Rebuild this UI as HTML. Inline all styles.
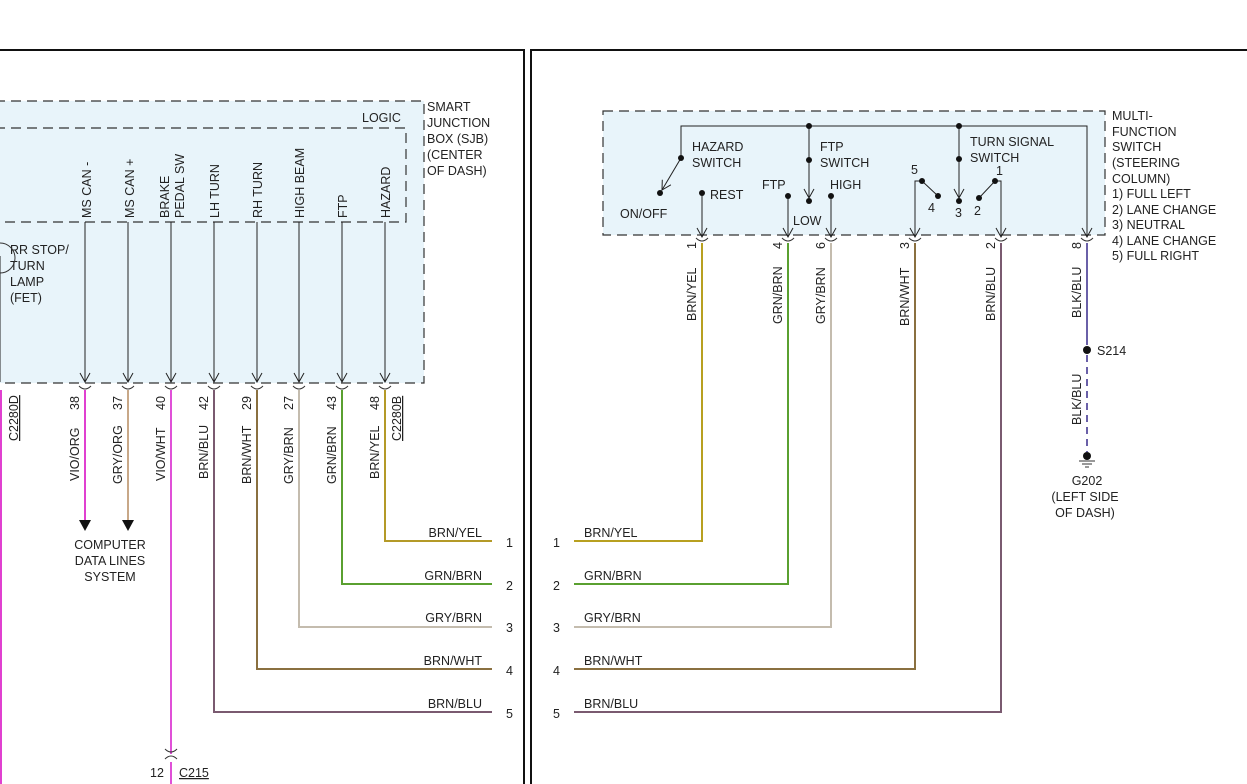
<!DOCTYPE html>
<html><head><meta charset="utf-8"><style>
html,body{margin:0;padding:0;background:#fff;}
svg{display:block;font-family:"Liberation Sans",Arial,sans-serif;font-size:12.5px;fill:#222;}
text{fill:#222;}
</style></head><body>
<svg width="1247" height="784" viewBox="0 0 1247 784" xmlns="http://www.w3.org/2000/svg">
<defs>
<marker id="ar" markerWidth="12" markerHeight="12" refX="10" refY="6" orient="auto" markerUnits="userSpaceOnUse">
<path d="M1,1 L10,6 L1,11" fill="none" stroke="#222" stroke-width="1"/>
</marker>
</defs>
<!-- frames -->
<path d="M0,50 H524 V784" fill="none" stroke="#111" stroke-width="2"/>
<path d="M531,784 V50 H1247" fill="none" stroke="#111" stroke-width="2"/>

<!-- SJB -->
<rect x="-5" y="101" width="429" height="282" fill="#e8f4fa" stroke="#333" stroke-dasharray="10,6" stroke-width="1.2"/>
<path d="M-5,128 H406 V222 H-5" fill="none" stroke="#333" stroke-dasharray="10,6" stroke-width="1.2"/>
<text x="362" y="122">LOGIC</text>
<text x="427" y="111">SMART</text>
<text x="427" y="127">JUNCTION</text>
<text x="427" y="143">BOX (SJB)</text>
<text x="427" y="159">(CENTER</text>
<text x="427" y="175">OF DASH)</text>
<text x="10" y="254">RR STOP/</text>
<text x="10" y="270">TURN</text>
<text x="10" y="286">LAMP</text>
<text x="10" y="302">(FET)</text>
<path d="M0,243 A14,14 0 0 1 0,273" fill="none" stroke="#333"/>
<line x1="0" y1="256" x2="0" y2="382" stroke="#222"/>

<g stroke="#222" stroke-width="1">
<line x1="85" y1="222" x2="85" y2="382" marker-end="url(#ar)"/>
<line x1="128" y1="222" x2="128" y2="382" marker-end="url(#ar)"/>
<line x1="171" y1="222" x2="171" y2="382" marker-end="url(#ar)"/>
<line x1="214" y1="222" x2="214" y2="382" marker-end="url(#ar)"/>
<line x1="257" y1="222" x2="257" y2="382" marker-end="url(#ar)"/>
<line x1="299" y1="222" x2="299" y2="382" marker-end="url(#ar)"/>
<line x1="342" y1="222" x2="342" y2="382" marker-end="url(#ar)"/>
<line x1="385" y1="222" x2="385" y2="382" marker-end="url(#ar)"/>
</g>
<g>
<text transform="translate(91,218) rotate(-90)">MS CAN -</text>
<text transform="translate(134,218) rotate(-90)">MS CAN +</text>
<text transform="translate(169,218) rotate(-90)">BRAKE</text>
<text transform="translate(184,218) rotate(-90)">PEDAL SW</text>
<text transform="translate(219,218) rotate(-90)">LH TURN</text>
<text transform="translate(262,218) rotate(-90)">RH TURN</text>
<text transform="translate(304,218) rotate(-90)">HIGH BEAM</text>
<text transform="translate(347,218) rotate(-90)">FTP</text>
<text transform="translate(390,218) rotate(-90)">HAZARD</text>
</g>

<!-- connector cups left -->
<g fill="none" stroke="#333" stroke-width="1">
<path d="M79,386 Q85,392 91,386"/><path d="M122,386 Q128,392 134,386"/><path d="M165,386 Q171,392 177,386"/>
<path d="M208,386 Q214,392 220,386"/><path d="M251,386 Q257,392 263,386"/><path d="M293,386 Q299,392 305,386"/>
<path d="M336,386 Q342,392 348,386"/><path d="M379,386 Q385,392 391,386"/>
</g>

<!-- left wires -->
<g fill="none" stroke-width="2">
<line x1="1" y1="390" x2="1" y2="784" stroke="#e040d0"/>
<line x1="85" y1="390" x2="85" y2="522" stroke="#e040d0"/>
<line x1="128" y1="390" x2="128" y2="522" stroke="#c8a888"/>
<path d="M171,390 V754 M171,762 V784" stroke="#e050d8"/>
<path d="M214,390 V712 H492" stroke="#7a5a70"/>
<path d="M257,390 V669 H492" stroke="#8a7040"/>
<path d="M299,390 V627 H492" stroke="#c4bcae"/>
<path d="M342,390 V584 H492" stroke="#5aa030"/>
<path d="M385,390 V541 H492" stroke="#b49a28"/>
</g>
<polygon points="79,520 91,520 85,531" fill="#111"/>
<polygon points="122,520 134,520 128,531" fill="#111"/>
<text x="110" y="549" text-anchor="middle">COMPUTER</text>
<text x="110" y="565" text-anchor="middle">DATA LINES</text>
<text x="110" y="581" text-anchor="middle">SYSTEM</text>
<path d="M165,749 Q171,755 177,749 M165,759 Q171,753 177,759" fill="none" stroke="#333"/>
<text x="150" y="777">12</text>
<text x="179" y="777" text-decoration="underline">C215</text>

<g>
<text transform="translate(18,441) rotate(-90)" text-decoration="underline">C2280D</text>
<text transform="translate(79,410) rotate(-90)">38</text>
<text transform="translate(122,410) rotate(-90)">37</text>
<text transform="translate(165,410) rotate(-90)">40</text>
<text transform="translate(208,410) rotate(-90)">42</text>
<text transform="translate(251,410) rotate(-90)">29</text>
<text transform="translate(293,410) rotate(-90)">27</text>
<text transform="translate(336,410) rotate(-90)">43</text>
<text transform="translate(379,410) rotate(-90)">48</text>
<text transform="translate(401,441) rotate(-90)" text-decoration="underline">C2280B</text>
<text transform="translate(79,481) rotate(-90)">VIO/ORG</text>
<text transform="translate(122,484) rotate(-90)">GRY/ORG</text>
<text transform="translate(165,481) rotate(-90)">VIO/WHT</text>
<text transform="translate(208,479) rotate(-90)">BRN/BLU</text>
<text transform="translate(251,484) rotate(-90)">BRN/WHT</text>
<text transform="translate(293,484) rotate(-90)">GRY/BRN</text>
<text transform="translate(336,484) rotate(-90)">GRN/BRN</text>
<text transform="translate(379,479) rotate(-90)">BRN/YEL</text>
</g>
<g text-anchor="end">
<text x="482" y="537">BRN/YEL</text>
<text x="482" y="580">GRN/BRN</text>
<text x="482" y="622">GRY/BRN</text>
<text x="482" y="665">BRN/WHT</text>
<text x="482" y="708">BRN/BLU</text>
</g>
<text x="506" y="547">1</text><text x="506" y="590">2</text><text x="506" y="632">3</text><text x="506" y="675">4</text><text x="506" y="718">5</text>

<!-- MFS -->
<rect x="603" y="111" width="502" height="124" fill="#e8f4fa" stroke="#333" stroke-dasharray="10,6" stroke-width="1.2"/>
<text x="1112" y="120">MULTI-</text>
<text x="1112" y="136">FUNCTION</text>
<text x="1112" y="151">SWITCH</text>
<text x="1112" y="167">(STEERING</text>
<text x="1112" y="183">COLUMN)</text>
<text x="1112" y="198">1) FULL LEFT</text>
<text x="1112" y="214">2) LANE CHANGE</text>
<text x="1112" y="229">3) NEUTRAL</text>
<text x="1112" y="245">4) LANE CHANGE</text>
<text x="1112" y="260">5) FULL RIGHT</text>

<g stroke="#222" stroke-width="1" fill="none">
<path d="M681,158 V126 H1087 V237" marker-end="url(#ar)"/>
<line x1="681" y1="158" x2="662" y2="190" marker-end="url(#ar)"/>
<line x1="702" y1="193" x2="702" y2="237" marker-end="url(#ar)"/>
<line x1="788" y1="196" x2="788" y2="237" marker-end="url(#ar)"/>
<line x1="831" y1="196" x2="831" y2="237" marker-end="url(#ar)"/>
<line x1="809" y1="126" x2="809" y2="198" marker-end="url(#ar)"/>
<line x1="959" y1="126" x2="959" y2="198" marker-end="url(#ar)"/>
<path d="M915,237 V181 H922 L938,196" />
<path d="M915,220 V237" marker-end="url(#ar)"/>
<path d="M979,198 L995,181 H1001 V237" />
<path d="M1001,220 V237" marker-end="url(#ar)"/>
</g>
<g fill="#111">
<circle cx="681" cy="158" r="3"/><circle cx="660" cy="193" r="3"/><circle cx="702" cy="193" r="3"/>
<circle cx="788" cy="196" r="3"/><circle cx="809" cy="126" r="3"/><circle cx="809" cy="160" r="3"/><circle cx="809" cy="201" r="3"/>
<circle cx="831" cy="196" r="3"/><circle cx="922" cy="181" r="3"/><circle cx="938" cy="196" r="3"/>
<circle cx="959" cy="126" r="3"/><circle cx="959" cy="159" r="3"/><circle cx="959" cy="201" r="3"/>
<circle cx="979" cy="198" r="3"/><circle cx="995" cy="181" r="3"/>
</g>
<text x="692" y="151">HAZARD</text><text x="692" y="167">SWITCH</text>
<text x="620" y="218">ON/OFF</text>
<text x="710" y="199">REST</text>
<text x="762" y="189">FTP</text>
<text x="820" y="151">FTP</text><text x="820" y="167">SWITCH</text>
<text x="793" y="225">LOW</text>
<text x="830" y="189">HIGH</text>
<text x="970" y="146">TURN SIGNAL</text><text x="970" y="162">SWITCH</text>
<text x="911" y="174">5</text><text x="928" y="212">4</text><text x="955" y="217">3</text><text x="974" y="215">2</text><text x="996" y="175">1</text>

<g fill="none" stroke="#333">
<path d="M696,238 Q702,244 708,238"/><path d="M782,238 Q788,244 794,238"/><path d="M825,238 Q831,244 837,238"/>
<path d="M909,238 Q915,244 921,238"/><path d="M995,238 Q1001,244 1007,238"/><path d="M1081,238 Q1087,244 1093,238"/>
</g>
<g fill="none" stroke-width="2">
<path d="M702,243 V541 H574" stroke="#b8a020"/>
<path d="M788,243 V584 H574" stroke="#5aa030"/>
<path d="M831,243 V627 H574" stroke="#c4bcae"/>
<path d="M915,243 V669 H574" stroke="#8a7040"/>
<path d="M1001,243 V712 H574" stroke="#7a5a70"/>
<line x1="1087" y1="243" x2="1087" y2="345" stroke="#6a60a8"/>
<line x1="1087" y1="355" x2="1087" y2="452" stroke="#6a60a8" stroke-dasharray="7,5"/>
</g>
<circle cx="1087" cy="350" r="4" fill="#111"/>
<text x="1097" y="355">S214</text>
<circle cx="1087" cy="456" r="4" fill="#111"/>
<path d="M1079,461 H1095 M1082,464 H1092 M1085,467 H1089" stroke="#333"/>
<text x="1087" y="485" text-anchor="middle">G202</text>
<text x="1085" y="501" text-anchor="middle">(LEFT SIDE</text>
<text x="1085" y="517" text-anchor="middle">OF DASH)</text>

<g>
<text transform="translate(696,249) rotate(-90)">1</text>
<text transform="translate(782,249) rotate(-90)">4</text>
<text transform="translate(825,249) rotate(-90)">6</text>
<text transform="translate(909,249) rotate(-90)">3</text>
<text transform="translate(995,249) rotate(-90)">2</text>
<text transform="translate(1081,249) rotate(-90)">8</text>
<text transform="translate(696,321) rotate(-90)">BRN/YEL</text>
<text transform="translate(782,324) rotate(-90)">GRN/BRN</text>
<text transform="translate(825,324) rotate(-90)">GRY/BRN</text>
<text transform="translate(909,326) rotate(-90)">BRN/WHT</text>
<text transform="translate(995,321) rotate(-90)">BRN/BLU</text>
<text transform="translate(1081,318) rotate(-90)">BLK/BLU</text>
<text transform="translate(1081,425) rotate(-90)">BLK/BLU</text>
</g>
<text x="584" y="537">BRN/YEL</text>
<text x="584" y="580">GRN/BRN</text>
<text x="584" y="622">GRY/BRN</text>
<text x="584" y="665">BRN/WHT</text>
<text x="584" y="708">BRN/BLU</text>
<text x="553" y="547">1</text><text x="553" y="590">2</text><text x="553" y="632">3</text><text x="553" y="675">4</text><text x="553" y="718">5</text>
</svg>
</body></html>
